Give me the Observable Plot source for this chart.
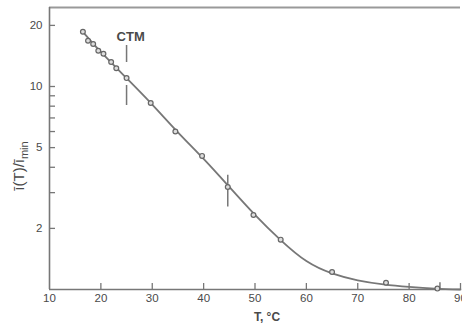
<!DOCTYPE html>
<html><head><meta charset="utf-8">
<script src="https://cdn.jsdelivr.net/npm/d3@7"></script>
<script src="https://cdn.jsdelivr.net/npm/@observablehq/plot@0.6"></script>
<style>body{margin:0;background:#fff} svg{display:block}</style>
</head><body><div id="chart"></div>
<script>
// measured points
const pointT = [16.5, 17.5, 18.5, 19.5, 20.5, 22, 23, 25, 29.7, 34.5, 39.7, 44.7, 49.7, 55, 65, 75.5, 85.5];
const pointV = [18.6, 16.8, 16.2, 15.0, 14.5, 13.2, 12.3, 11.0, 8.3, 6.0, 4.55, 3.2, 2.33, 1.76, 1.22, 1.08, 1.01];
// fitted curve
const fitT = [16.5, 20, 25, 30, 35, 40, 45, 50, 55, 60, 65, 70, 75, 80, 85, 90];
const fitV = [18.6, 14.8, 11.0, 8.15, 5.95, 4.4, 3.2, 2.33, 1.75, 1.38, 1.2, 1.11, 1.06, 1.03, 1.01, 1.0];
// CTM marker and error bars
const ctmT = [25];
const ctmLo = [8.0];
const ctmHi = [15.9];
const errT = [44.7, 86];
const errLo = [2.55, 1.0];
const errHi = [3.65, 1.08];
const ctmLabel = ["CTM"];
const ctmLabelT = [25.8];
const ctmLabelV = [17.6];
// axes
const xTickLabels = [10, 20, 30, 40, 50, 60, 70, 80, 90];
const xTickMarks = [20, 30, 40, 50, 60, 70, 80, 90];
const yTickMarks = [20, 10, 9, 8, 7, 6, 5, 4, 3, 2];
const yTickLabels = [20, 10, 5, 2];
const xDomain = [10, 90];
const yDomain = [1, 24.5];

const points = pointT.map((t, i) => ({t, v: pointV[i]}));
const fit = fitT.map((t, i) => ({t, v: fitV[i]}));
const ctm = ctmT.map((t, i) => ({t, lo: ctmLo[i], hi: ctmHi[i]}));
const errs = errT.map((t, i) => ({t, lo: errLo[i], hi: errHi[i]}));
const labels = ctmLabel.map((s, i) => ({s, t: ctmLabelT[i], v: ctmLabelV[i]}));

const lineCol = "#777";
const textCol = "#4a4a4a";

const chart = Plot.plot({
  width: 462, height: 323,
  marginLeft: 49, marginRight: 2, marginTop: 7, marginBottom: 34,
  style: {fontFamily: "Liberation Sans, Arial, sans-serif", fontSize: "11px", color: textCol, background: "#fff"},
  x: {domain: xDomain},
  y: {type: "log", domain: yDomain},
  marks: [
    Plot.ruleY([yDomain[1]], {stroke: "#999", strokeWidth: 2}),
    Plot.ruleX([xDomain[0]], {stroke: lineCol, strokeWidth: 1.6}),
    Plot.ruleY([yDomain[0]], {stroke: lineCol, strokeWidth: 1.6}),
    Plot.axisY(yTickMarks, {anchor: "left", tickSize: -6, tickFormat: () => "", label: null, stroke: lineCol, strokeWidth: 1.3}),
    Plot.axisY(yTickLabels, {anchor: "left", tickSize: 0, tickPadding: 7, label: null, fill: textCol, fontSize: 11.5}),
    Plot.axisX(xTickMarks, {anchor: "bottom", tickSize: -6, tickFormat: () => "", label: null, stroke: lineCol, strokeWidth: 1.3}),
    Plot.axisX(xTickLabels, {anchor: "bottom", tickSize: 0, tickPadding: 4, label: null, fill: textCol, fontSize: 11.5}),
    Plot.line(fit, {x: "t", y: "v", curve: "natural", stroke: lineCol, strokeWidth: 1.8}),
    Plot.ruleX(ctm, {x: "t", y1: "hi", y2: "lo", stroke: lineCol, strokeWidth: 1.5, strokeDasharray: "17,23,20"}),
    Plot.ruleX(errs, {x: "t", y1: "hi", y2: "lo", stroke: lineCol, strokeWidth: 1.5}),
    Plot.dot(points, {x: "t", y: "v", r: 2.4, stroke: "#666", fill: "#ddd", strokeWidth: 1.2}),
    Plot.text(labels, {x: "t", y: "v", text: "s", fontSize: 13, fontWeight: "bold", fill: textCol})
  ]
});
document.getElementById("chart").appendChild(chart);

const svg = d3.select(chart);
const yl = svg.append("text")
  .attr("transform", "translate(24,166) rotate(-90)")
  .attr("text-anchor", "middle")
  .attr("fill", textCol)
  .attr("font-family", "Liberation Sans, Arial, sans-serif")
  .attr("font-size", 15);
yl.append("tspan").text("ī(T)/ī");
yl.append("tspan").attr("dy", 4).attr("font-size", 11).text("min");

svg.append("text")
  .attr("x", 267).attr("y", 321)
  .attr("text-anchor", "middle")
  .attr("fill", textCol)
  .attr("font-family", "Liberation Sans, Arial, sans-serif")
  .attr("font-weight", "bold")
  .attr("font-size", 12)
  .text("T, °C");
</script>
</body></html>
